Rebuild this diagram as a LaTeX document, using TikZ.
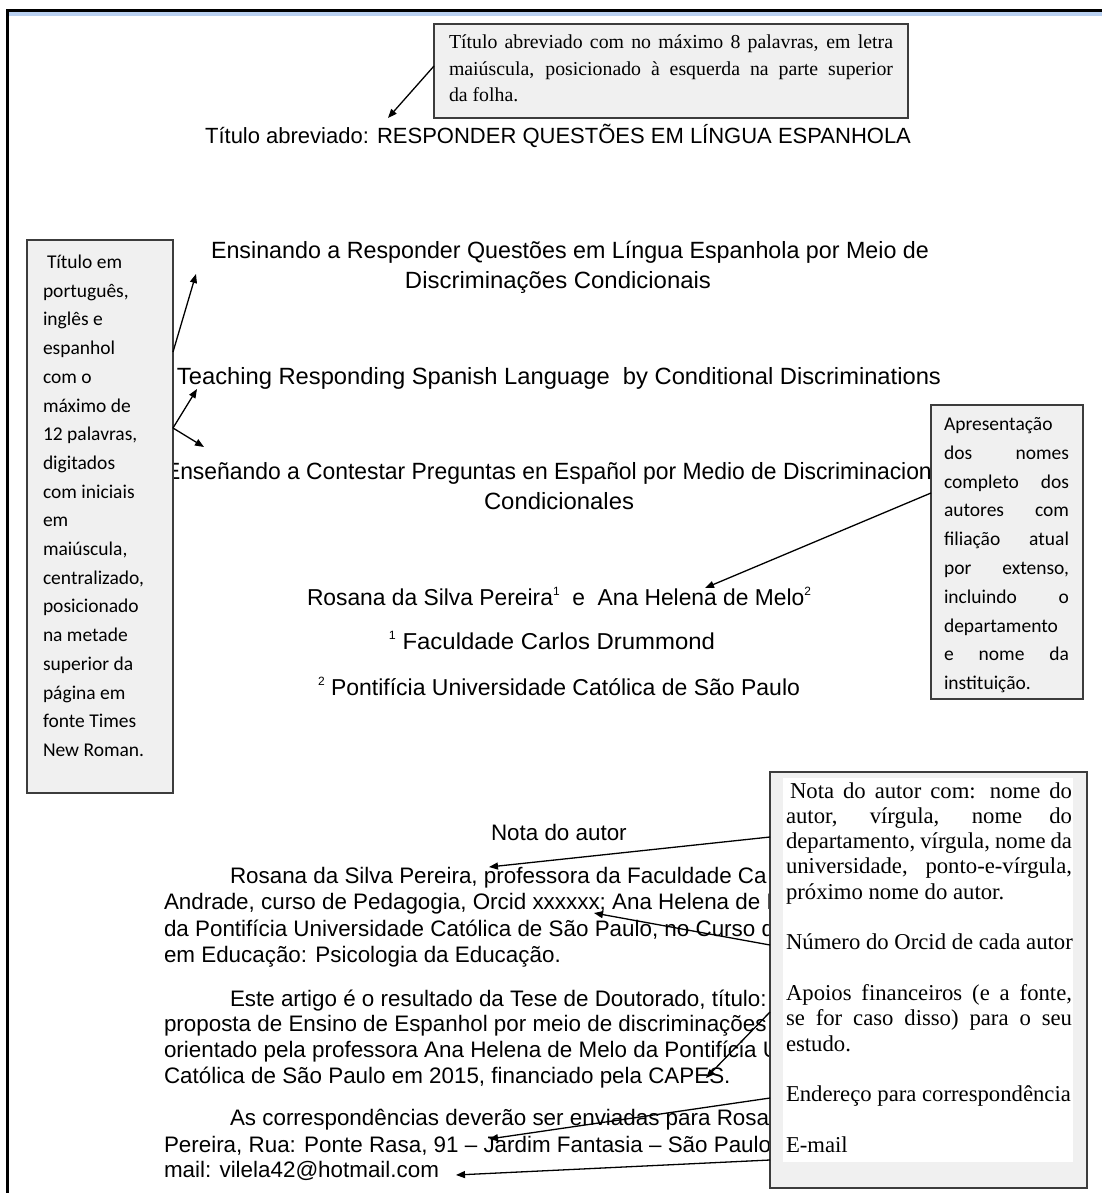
\documentclass[tikz,border=0pt]{standalone}
\usepackage{graphicx}
\usepackage{fontspec}
\setmainfont{Liberation Sans}
\newfontfamily\tnrfont{Liberation Serif}
\newfontfamily\calibfont{Carlito}
\usetikzlibrary{arrows.meta}
\definecolor{boxgray}{HTML}{F0F0F0}
\definecolor{boxedge}{HTML}{3C3C3C}
\definecolor{topblue}{HTML}{B9D0F0}
\newcommand{\fitw}[2]{\resizebox{#1}{\height}{#2}}
\newcommand{\jline}[2]{\makebox[#1][s]{#2}}
\newcommand{\supnum}[1]{\raisebox{0.42em}{\fontsize{12}{12}\selectfont #1}}
\begin{document}
\begin{tikzpicture}[x=1pt,y=-1pt,
  txt/.style={inner sep=0pt, outer sep=0pt},
  ttlfont/.style={txt, anchor=base, font=\fontsize{22}{26}\selectfont},
  headfont/.style={txt, anchor=base, font=\fontsize{23.5}{28}\selectfont},
  namefont/.style={txt, anchor=base, font=\fontsize{23}{28}\selectfont},
  body/.style={txt, anchor=base west, font=\fontsize{22.4}{26}\selectfont},
  boxst/.style={draw=boxedge, fill=boxgray, line width=2pt, inner sep=0pt, outer sep=0pt, anchor=north west},
  tbtext/.style={txt, anchor=base west, font=\tnrfont\fontsize{19.8}{23}\selectfont},
  nttext/.style={txt, anchor=base west, font=\tnrfont\fontsize{22.7}{25}\selectfont},
  cltext/.style={txt, anchor=base west, font=\calibfont\fontsize{19.5}{24}\selectfont},
  arr/.style={-{Triangle[length=9pt,width=7pt]}, line width=1.3pt, black}]
\useasboundingbox (0,0) rectangle (1102,1193);
\fill[white] (0,0) rectangle (1102,1193);
% page frame
\fill[topblue] (9,12) rectangle (1102,16);
\fill[black] (6,9) rectangle (1102,12);
\fill[black] (6,9) rectangle (9,1193);

% main texts
\node[ttlfont] (ttl) at (558,144) {Título abreviado: RESPONDER QUESTÕES EM LÍNGUA ESPANHOLA};
\node[headfont] (pt1) at (570,258) {\fitw{718pt}{Ensinando a Responder Questões em Língua Espanhola por Meio de}};
\node[headfont] (pt2) at (558,288) {\fitw{306pt}{Discriminações Condicionais}};
\node[headfont] (en) at (559,384) {\fitw{764pt}{Teaching Responding Spanish Language\ \ by Conditional Discriminations}};
\node[headfont, anchor=base west] (es1) at (165,479) {\fitw{791pt}{Enseñando a Contestar Preguntas en Español por Medio de Discriminaciones}};
\node[headfont] (es2) at (559,509) {\fitw{150pt}{Condicionales}};
\node[namefont] (names) at (559,605) {\fitw{504pt}{Rosana da Silva Pereira\supnum{1}\ \ e\ \ Ana Helena de Melo\supnum{2}}};
\node[namefont] (aff1) at (552,649) {\fitw{326pt}{\supnum{1} Faculdade Carlos Drummond}};
\node[namefont] (aff2) at (559,695) {\fitw{482pt}{\supnum{2} Pontifícia Universidade Católica de São Paulo}};

\node[body] (nota) at (491,840) {Nota do autor};
\node[body] (p1a) at (230,883) {Rosana da Silva Pereira, professora da Faculdade Ca};
\node[body] (p1b) at (164,909) {Andrade, curso de Pedagogia, Orcid xxxxxx; Ana Helena de M};
\node[body] (p1c) at (164,936) {da Pontifícia Universidade Católica de São Paulo, no Curso d};
\node[body] (p1d) at (164,962) {em Educação: Psicologia da Educação.};
\node[body] (p2a) at (230,1006) {Este artigo é o resultado da Tese de Doutorado, título:};
\node[body] (p2b) at (164,1031) {proposta de Ensino de Espanhol por meio de discriminações};
\node[body] (p2c) at (164,1057) {orientado pela professora Ana Helena de Melo da Pontifícia U};
\node[body] (p2d) at (164,1083) {Católica de São Paulo em 2015, financiado pela CAPES.};
\node[body] (p3a) at (230,1125) {As correspondências deverão ser enviadas para Rosa};
\node[body] (p3b) at (164,1152) {Pereira, Rua: Ponte Rasa, 91 – Jardim Fantasia – São Paulo,};
\node[body] (p3c) at (164,1177) {mail: vilela42@hotmail.com};

% boxes
\node[boxst, minimum width=474pt, minimum height=94pt] (topbox) at (434,24) {};
\node[boxst, minimum width=146pt, minimum height=553pt] (lbox) at (27,240) {};
\node[boxst, minimum width=152pt, minimum height=294pt] (rbox) at (931,405) {};
\node[boxst, minimum width=317pt, minimum height=416pt] (nbox) at (770,772) {};
\node[fill=white, inner sep=0pt, outer sep=0pt, anchor=north west, minimum width=290pt, minimum height=384pt] (nboxin) at (783,778) {};

% top box text
\node[tbtext] (tb1) at (449,49) {\jline{444pt}{Título abreviado com no máximo 8 palavras, em letra}};
\node[tbtext] (tb2) at (449,76) {\jline{444pt}{maiúscula, posicionado à esquerda na parte superior}};
\node[tbtext] (tb3) at (449,102) {da folha.};

% left box text
\node[cltext] (l1) at (47,268.5) {Título em};
\node[cltext] (l2) at (43,297.2) {português,};
\node[cltext] (l3) at (43,325.9) {inglês e};
\node[cltext] (l4) at (43,354.6) {espanhol};
\node[cltext] (l5) at (43,383.3) {com o};
\node[cltext] (l6) at (43,412.0) {máximo de};
\node[cltext] (l7) at (43,440.7) {12 palavras,};
\node[cltext] (l8) at (43,469.4) {digitados};
\node[cltext] (l9) at (43,498.1) {com iniciais};
\node[cltext] (l10) at (43,526.8) {em};
\node[cltext] (l11) at (43,555.5) {maiúscula,};
\node[cltext] (l12) at (43,584.2) {centralizado,};
\node[cltext] (l13) at (43,612.9) {posicionado};
\node[cltext] (l14) at (43,641.6) {na metade};
\node[cltext] (l15) at (43,670.3) {superior da};
\node[cltext] (l16) at (43,699.0) {página em};
\node[cltext] (l17) at (43,727.7) {fonte Times};
\node[cltext] (l18) at (43,756.4) {New Roman.};

% right box text
\node[cltext] (r1) at (944,430.5) {Apresentação};
\node[cltext] (r2) at (944,459.3) {\jline{125pt}{dos nomes}};
\node[cltext] (r3) at (944,488.1) {\jline{125pt}{completo dos}};
\node[cltext] (r4) at (944,516.9) {\jline{125pt}{autores com}};
\node[cltext] (r5) at (944,545.7) {\jline{125pt}{filiação atual}};
\node[cltext] (r6) at (944,574.5) {\jline{125pt}{por extenso,}};
\node[cltext] (r7) at (944,603.3) {\jline{125pt}{incluindo o}};
\node[cltext] (r8) at (944,632.1) {departamento};
\node[cltext] (r9) at (944,660.9) {\jline{125pt}{e nome da}};
\node[cltext] (r10) at (944,689.7) {instituição.};

% nota box text
\node[nttext] (n1) at (790,798) {\jline{282pt}{Nota do autor com: nome do}};
\node[nttext] (n2) at (786,823.3) {\jline{286pt}{autor, vírgula, nome do}};
\node[nttext] (n3) at (786,848.6) {\jline{286pt}{departamento, vírgula, nome da}};
\node[nttext] (n4) at (786,873.9) {\jline{286pt}{universidade, ponto-e-vírgula,}};
\node[nttext] (n5) at (786,899.2) {próximo nome do autor.};
\node[nttext] (n6) at (786,949.8) {Número do Orcid de cada autor};
\node[nttext] (n7) at (786,1000.4) {\jline{286pt}{Apoios financeiros (e a fonte,}};
\node[nttext] (n8) at (786,1025.7) {\jline{286pt}{se for caso disso) para o seu}};
\node[nttext] (n9) at (786,1051) {estudo.};
\node[nttext] (n10) at (786,1101.6) {Endereço para correspondência};
\node[nttext] (n11) at (786,1152.2) {E-mail};

% arrow end points
\coordinate (e1) at (388,118);
\coordinate (e2) at (196,274);
\coordinate (e3) at (197,389);
\coordinate (e4) at (204,447);
\coordinate (e5) at (705,588);
\coordinate (e6) at (489,867);
\coordinate (e7) at (594,913);
\coordinate (e8) at (706,1078);
\coordinate (e9) at (489,1139);
\coordinate (e10) at (456,1175);

\draw[arr] (topbox.west |- 0,66) -- (e1);
\draw[arr] (lbox.east |- 0,352) -- (e2);
\draw[arr] (lbox.east |- 0,428) -- (e3);
\draw[arr] (lbox.east |- 0,428) -- (e4);
\draw[arr] (rbox.west |- 0,493) -- (e5);
\draw[arr] (nbox.west |- 0,837) -- (e6);
\draw[arr] (nbox.west |- 0,945) -- (e7);
\draw[arr] (nbox.west |- 0,1012) -- (e8);
\draw[arr] (nbox.west |- 0,1098) -- (e9);
\draw[arr] (nbox.west |- 0,1160) -- (e10);
\end{tikzpicture}
\end{document}
